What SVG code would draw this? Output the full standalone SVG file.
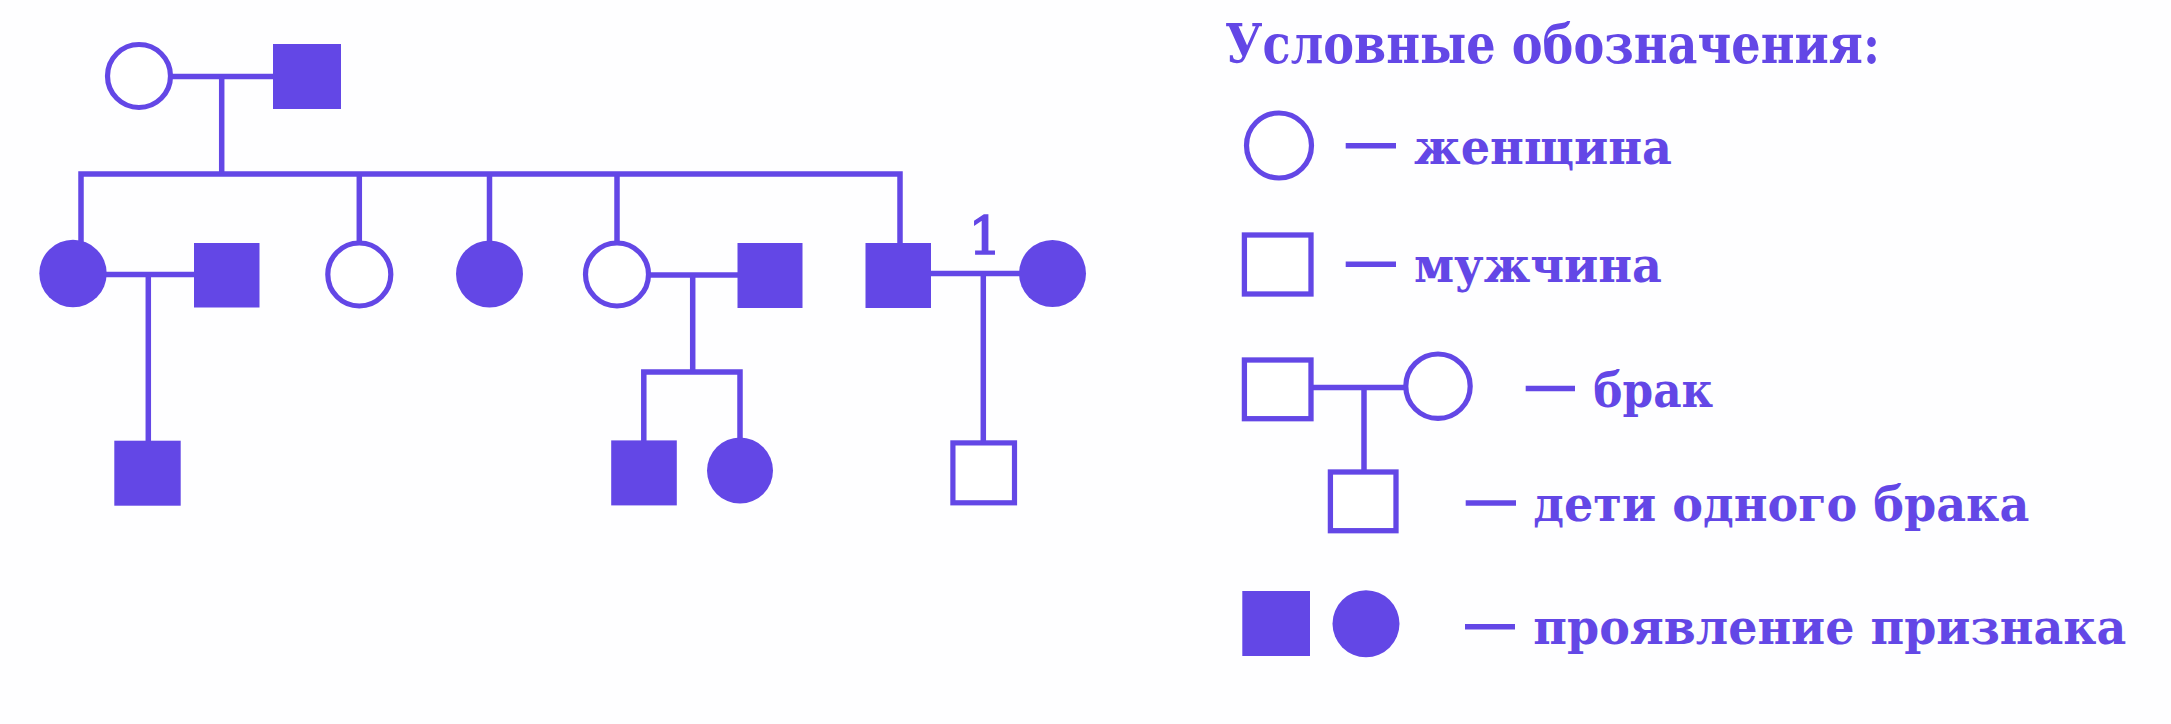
<svg xmlns="http://www.w3.org/2000/svg" width="2171" height="724" viewBox="0 0 2171 724">
<style>
.ln{stroke:#6347E6;stroke-width:5.5;fill:none;stroke-linecap:butt;stroke-linejoin:miter}
.op{fill:#FFFFFF;stroke:#6347E6;stroke-width:5.2}
.fl{fill:#6347E6;stroke:none}
.tx{fill:#6347E6;font-family:"DejaVu Serif","Liberation Serif",serif;font-weight:bold;font-size:49px}
.ttl{font-size:55px}
.num{fill:#6347E6;stroke:#6347E6;stroke-width:1.6;font-family:"DejaVu Serif","Liberation Serif",serif;font-weight:normal;font-size:52px}
</style>
<rect x="0" y="0" width="2171" height="724" fill="#FEFEFF"/>
<g id="connectors">
<line class="ln" x1="170" y1="76.5" x2="274" y2="76.5"/>
<line class="ln" x1="221.7" y1="76.5" x2="221.7" y2="174"/>
<path class="ln" d="M81 242 V174 H900 V244"/>
<line class="ln" x1="359.3" y1="174" x2="359.3" y2="242"/>
<line class="ln" x1="489.5" y1="174" x2="489.5" y2="242"/>
<line class="ln" x1="617" y1="174" x2="617" y2="242"/>
<line class="ln" x1="104" y1="274.5" x2="195" y2="274.5"/>
<line class="ln" x1="148.3" y1="274.5" x2="148.3" y2="442"/>
<line class="ln" x1="648" y1="275" x2="738" y2="275"/>
<line class="ln" x1="692.7" y1="275" x2="692.7" y2="372"/>
<path class="ln" d="M643.8 442 V372 H740 V439"/>
<line class="ln" x1="930" y1="273.5" x2="1020" y2="273.5"/>
<line class="ln" x1="983.3" y1="273.5" x2="983.3" y2="442"/>
</g>
<g id="gen1-mother"><circle class="op" cx="139" cy="76" r="31.5"/></g>
<g id="gen1-father"><rect class="fl" x="273" y="44" width="68" height="65"/></g>
<g id="gen2-daughter1"><circle class="fl" cx="73" cy="273.5" r="33.7"/></g>
<g id="gen2-spouse1"><rect class="fl" x="194" y="243" width="65.5" height="64.5"/></g>
<g id="gen2-daughter2"><circle class="op" cx="359.3" cy="274.5" r="31.5"/></g>
<g id="gen2-daughter3"><circle class="fl" cx="489.5" cy="274" r="33.5"/></g>
<g id="gen2-daughter4"><circle class="op" cx="617" cy="274.5" r="31.5"/></g>
<g id="gen2-spouse4"><rect class="fl" x="737.5" y="243" width="65" height="65"/></g>
<g id="gen2-son"><rect class="fl" x="865.5" y="243" width="65.5" height="65"/></g>
<g id="gen2-spouse-son"><circle class="fl" cx="1052.5" cy="273.5" r="33.5"/></g>
<g id="label-1"><text class="num" x="985" y="254" text-anchor="middle">1</text></g>
<g id="gen3-son1"><rect class="fl" x="114.3" y="440.7" width="66.4" height="65"/></g>
<g id="gen3-son2"><rect class="fl" x="611.2" y="440.4" width="65.6" height="65"/></g>
<g id="gen3-daughter"><circle class="fl" cx="740" cy="470.6" r="33"/></g>
<g id="gen3-son3"><rect class="op" x="952.9" y="442.9" width="61.6" height="59.9"/></g>
<g id="legend">
<text class="tx ttl" x="1225" y="62.7" textLength="655" lengthAdjust="spacingAndGlyphs">Условные обозначения:</text>
<circle class="op" cx="1279" cy="145.5" r="32.5"/>
<line class="ln" x1="1345.7" y1="145.8" x2="1396" y2="145.8"/>
<text class="tx" x="1414" y="164" textLength="258" lengthAdjust="spacingAndGlyphs">женщина</text>
<rect class="op" x="1244.4" y="235" width="66.6" height="59" style="stroke-width:5.3"/>
<line class="ln" x1="1345.7" y1="264.2" x2="1396" y2="264.2"/>
<text class="tx" x="1414" y="281.5" textLength="248" lengthAdjust="spacingAndGlyphs">мужчина</text>
<line class="ln" x1="1312" y1="387.5" x2="1405" y2="387.5"/>
<line class="ln" x1="1364" y1="387.5" x2="1364" y2="470"/>
<rect class="op" x="1244.4" y="360" width="66.6" height="58.7" style="stroke-width:5.3"/>
<circle class="op" cx="1438" cy="386.2" r="32.2"/>
<rect class="op" x="1330.4" y="472" width="65.6" height="58.7" style="stroke-width:5.3"/>
<line class="ln" x1="1525.7" y1="388.5" x2="1575" y2="388.5"/>
<text class="tx" x="1593.3" y="406.7" textLength="120" lengthAdjust="spacingAndGlyphs">брак</text>
<line class="ln" x1="1465.7" y1="503" x2="1516" y2="503"/>
<text class="tx" x="1533.3" y="521.3" textLength="496" lengthAdjust="spacingAndGlyphs">дети одного брака</text>
<rect class="fl" x="1242.3" y="591" width="67.7" height="65"/>
<circle class="fl" cx="1366" cy="623.7" r="33.5"/>
<line class="ln" x1="1465" y1="626.7" x2="1515" y2="626.7"/>
<text class="tx" x="1533.3" y="644" textLength="593" lengthAdjust="spacingAndGlyphs">проявление признака</text>
</g>
</svg>
